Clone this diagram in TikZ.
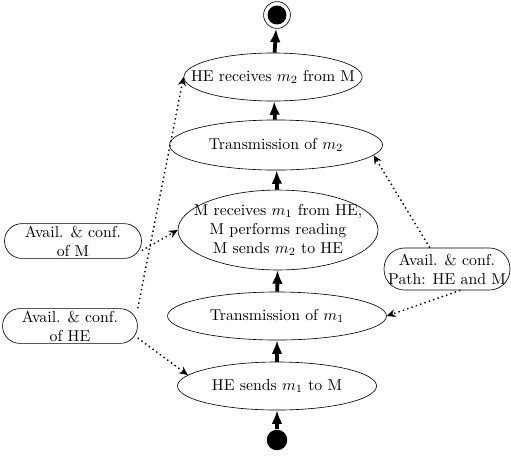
\documentclass[tikz,border=0pt]{standalone}
\usetikzlibrary{shapes.geometric,arrows.meta}
\begin{document}
\begin{tikzpicture}[x=0.633pt,y=-0.633pt,
  st/.style={ellipse,draw,inner xsep=-12pt,inner ysep=0pt,align=center},
  av/.style={draw,align=center,inner xsep=1pt,inner ysep=1pt},
  flow/.style={line width=2.4pt,-{Latex[length=8.5pt,width=6.8pt]}},
  dep/.style={dotted,line width=0.9pt,-{Stealth[length=5.5pt,width=5pt]}}]
\useasboundingbox (0,0) rectangle (511,456);
\node[circle,draw,minimum size=17pt,inner sep=0pt,
  path picture={\fill (path picture bounding box.center) circle (6pt);}] (fin) at (277,15) {};
\node[circle,fill=black,minimum size=13pt,inner sep=0pt] (ini) at (277,440) {};
\node[st,minimum width=112.7pt,minimum height=30.4pt] (e1) at (273,77) {HE receives $m_2$ from M};
\node[st,minimum width=134.8pt,minimum height=31.7pt] (e2) at (276,145) {Transmission of $m_2$};
\node[st,minimum width=126.6pt,minimum height=50.6pt] (e3) at (278,230) {M receives $m_1$ from HE,\\M performs reading\\M sends $m_2$ to HE};
\node[st,minimum width=138.6pt,minimum height=30.4pt] (e4) at (277,316) {Transmission of $m_1$};
\node[st,minimum width=126pt,minimum height=30.4pt] (e5) at (277,386) {HE sends $m_1$ to M};
\node[av,rounded corners=11pt,minimum width=86.7pt,minimum height=22pt] (am) at (73,241) {Avail. \& conf.\\of M};
\node[av,rounded corners=11pt,minimum width=85.4pt,minimum height=22pt] (ah) at (70,326) {Avail. \& conf.\\of HE};
\node[av,rounded corners=13pt,minimum width=79.7pt,minimum height=26.6pt] (ap) at (447,269) {Avail. \& conf.\\Path: HE and M};
\draw[flow] (ini) -- (e5);
\draw[flow] (e5) -- (e4);
\draw[flow] (e4) -- (e3);
\draw[flow] (e3) -- (e2);
\draw[flow] (e2) -- (e1);
\draw[flow] (e1) -- (fin);
\draw[dep] (am.-8) -- (e3.west);
\draw[dep] (ah.north east) -- (e1.west);
\draw[dep] (ah.-10) -- (e5.173);
\draw[dep] (ap.129) -- (e2.-6);
\draw[dep] (ap.-58) -- (e4.east);
\end{tikzpicture}
\end{document}
